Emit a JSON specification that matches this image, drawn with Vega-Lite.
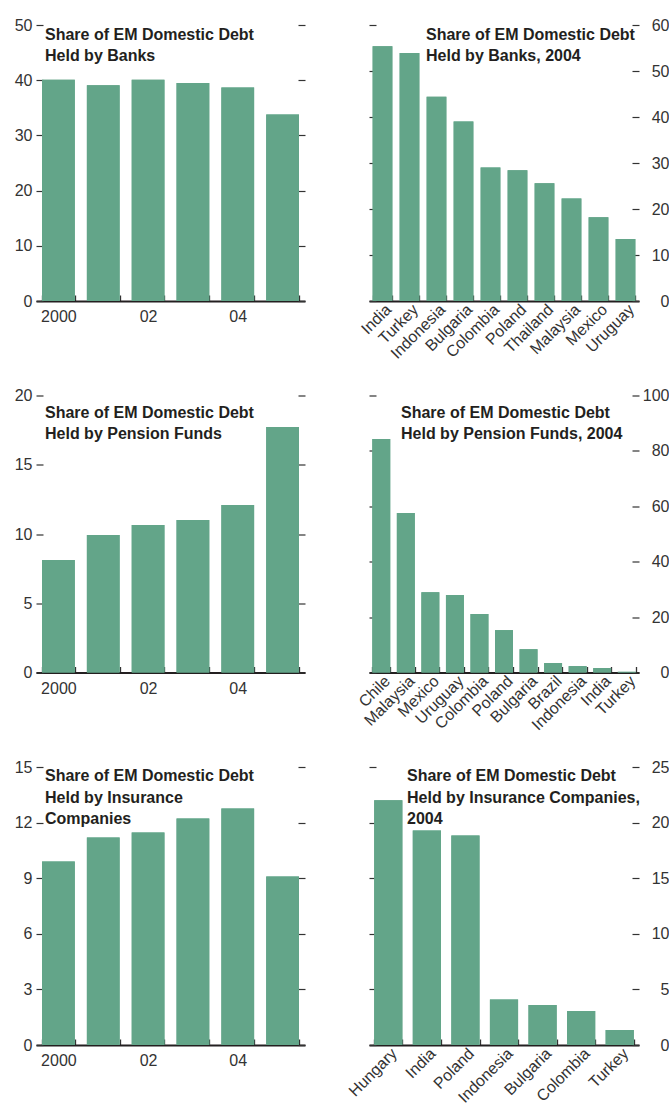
{
  "$schema": "https://vega.github.io/schema/vega-lite/v6.json",
  "padding": {"left": 14, "top": 17, "right": 0, "bottom": 0},
  "background": "white",
  "config": {
    "view": {"stroke": null},
    "bar": {"color": "#63a589"},
    "scale": {"bandPaddingInner": 0.27, "bandPaddingOuter": 0.135},
    "axis": {"grid": false, "labelFont": "Liberation Sans", "labelFontSize": 16, "labelColor": "#333333", "tickColor": "#333333", "domainColor": "#231f20", "title": null},
    "axisX": {"tickBand": "extent", "tickSize": -6, "tickWidth": 1.3, "domainWidth": 1.8, "labelPadding": 6},
    "axisY": {"domain": false, "tickSize": -7, "tickWidth": 1.2},
    "title": {"font": "Liberation Sans", "fontSize": 16, "fontWeight": "bold", "color": "#231f20", "anchor": "start", "frame": "group", "baseline": "top", "lineHeight": 21.5}
  },
  "bounds": "flush",
  "columns": 2,
  "spacing": {"row": 94.5, "column": 64},
  "concat": [
    {
      "width": 269, "height": 276,
      "title": {"text": ["Share of EM Domestic Debt", "Held by Banks"], "offset": -47, "dx": 9},
      "data": {"values": [
        {"year": 2000, "share": 40.1}, {"year": 2001, "share": 39.1}, {"year": 2002, "share": 40.1},
        {"year": 2003, "share": 39.5}, {"year": 2004, "share": 38.7}, {"year": 2005, "share": 33.8}
      ]},
      "layer": [
        {"mark": "bar", "encoding": {
          "x": {"field": "year", "type": "ordinal", "axis": {"labelAngle": 0, "labelPadding": 13.5, "labelExpr": "datum.value == 2000 ? '2000' : datum.value == 2002 ? '02' : datum.value == 2004 ? '04' : ''"}},
          "y": {"field": "share", "type": "quantitative", "scale": {"domain": [0, 50]}, "axis": {"orient": "left", "values": [0, 10, 20, 30, 40, 50], "labelPadding": 11}}
        }},
        {"mark": "bar", "encoding": {
          "x": {"field": "year", "type": "ordinal", "axis": {"labelAngle": 0, "labelPadding": 13.5, "labelExpr": "datum.value == 2000 ? '2000' : datum.value == 2002 ? '02' : datum.value == 2004 ? '04' : ''"}},
          "y": {"field": "share", "type": "quantitative", "scale": {"domain": [0, 50]}, "axis": {"orient": "right", "values": [0, 10, 20, 30, 40, 50], "labels": false}}
        }}
      ],
      "resolve": {"axis": {"y": "independent"}}
    },
    {
      "width": 270, "height": 276,
      "title": {"text": ["Share of EM Domestic Debt", "Held by Banks, 2004"], "offset": -47, "dx": 57},
      "data": {"values": [
        {"country": "India", "share": 55.4}, {"country": "Turkey", "share": 53.9}, {"country": "Indonesia", "share": 44.4},
        {"country": "Bulgaria", "share": 39.0}, {"country": "Colombia", "share": 29.0}, {"country": "Poland", "share": 28.4},
        {"country": "Thailand", "share": 25.6}, {"country": "Malaysia", "share": 22.3}, {"country": "Mexico", "share": 18.2},
        {"country": "Uruguay", "share": 13.5}
      ]},
      "layer": [
        {"mark": "bar", "encoding": {
          "x": {"field": "country", "type": "nominal", "sort": null, "axis": {"labelAngle": -45}},
          "y": {"field": "share", "type": "quantitative", "scale": {"domain": [0, 60]}, "axis": {"orient": "left", "values": [0, 10, 20, 30, 40, 50, 60], "labels": false}}
        }},
        {"mark": "bar", "encoding": {
          "x": {"field": "country", "type": "nominal", "sort": null, "axis": {"labelAngle": -45}},
          "y": {"field": "share", "type": "quantitative", "scale": {"domain": [0, 60]}, "axis": {"orient": "right", "values": [0, 10, 20, 30, 40, 50, 60], "labelAlign": "right", "labelPadding": 37}}
        }}
      ],
      "resolve": {"axis": {"y": "independent"}}
    },
    {
      "width": 269, "height": 277,
      "title": {"text": ["Share of EM Domestic Debt", "Held by Pension Funds"], "offset": -54.5, "dx": 9},
      "data": {"values": [
        {"year": 2000, "share": 8.12}, {"year": 2001, "share": 9.93}, {"year": 2002, "share": 10.65},
        {"year": 2003, "share": 11.01}, {"year": 2004, "share": 12.1}, {"year": 2005, "share": 17.73}
      ]},
      "layer": [
        {"mark": "bar", "encoding": {
          "x": {"field": "year", "type": "ordinal", "axis": {"labelAngle": 0, "labelPadding": 13.5, "labelExpr": "datum.value == 2000 ? '2000' : datum.value == 2002 ? '02' : datum.value == 2004 ? '04' : ''"}},
          "y": {"field": "share", "type": "quantitative", "scale": {"domain": [0, 20]}, "axis": {"orient": "left", "values": [0, 5, 10, 15, 20], "labelPadding": 11}}
        }},
        {"mark": "bar", "encoding": {
          "x": {"field": "year", "type": "ordinal", "axis": {"labelAngle": 0, "labelPadding": 13.5, "labelExpr": "datum.value == 2000 ? '2000' : datum.value == 2002 ? '02' : datum.value == 2004 ? '04' : ''"}},
          "y": {"field": "share", "type": "quantitative", "scale": {"domain": [0, 20]}, "axis": {"orient": "right", "values": [0, 5, 10, 15, 20], "labels": false}}
        }}
      ],
      "resolve": {"axis": {"y": "independent"}}
    },
    {
      "width": 270, "height": 277,
      "title": {"text": ["Share of EM Domestic Debt", "Held by Pension Funds, 2004"], "offset": -54.5, "dx": 32},
      "data": {"values": [
        {"country": "Chile", "share": 84.3}, {"country": "Malaysia", "share": 57.6}, {"country": "Mexico", "share": 29.0},
        {"country": "Uruguay", "share": 28.0}, {"country": "Colombia", "share": 21.1}, {"country": "Poland", "share": 15.3},
        {"country": "Bulgaria", "share": 8.4}, {"country": "Brazil", "share": 3.4}, {"country": "Indonesia", "share": 2.3},
        {"country": "India", "share": 1.6}, {"country": "Turkey", "share": 0.25}
      ]},
      "layer": [
        {"mark": "bar", "encoding": {
          "x": {"field": "country", "type": "nominal", "sort": null, "axis": {"labelAngle": -45}},
          "y": {"field": "share", "type": "quantitative", "scale": {"domain": [0, 100]}, "axis": {"orient": "left", "values": [0, 20, 40, 60, 80, 100], "labels": false}}
        }},
        {"mark": "bar", "encoding": {
          "x": {"field": "country", "type": "nominal", "sort": null, "axis": {"labelAngle": -45}},
          "y": {"field": "share", "type": "quantitative", "scale": {"domain": [0, 100]}, "axis": {"orient": "right", "values": [0, 20, 40, 60, 80, 100], "labelAlign": "right", "labelPadding": 37}}
        }}
      ],
      "resolve": {"axis": {"y": "independent"}}
    },
    {
      "width": 269, "height": 278,
      "title": {"text": ["Share of EM Domestic Debt", "Held by Insurance", "Companies"], "offset": -68, "dx": 9},
      "data": {"values": [
        {"year": 2000, "share": 9.9}, {"year": 2001, "share": 11.2}, {"year": 2002, "share": 11.47},
        {"year": 2003, "share": 12.22}, {"year": 2004, "share": 12.76}, {"year": 2005, "share": 9.09}
      ]},
      "layer": [
        {"mark": "bar", "encoding": {
          "x": {"field": "year", "type": "ordinal", "axis": {"labelAngle": 0, "labelPadding": 13.5, "labelExpr": "datum.value == 2000 ? '2000' : datum.value == 2002 ? '02' : datum.value == 2004 ? '04' : ''"}},
          "y": {"field": "share", "type": "quantitative", "scale": {"domain": [0, 15]}, "axis": {"orient": "left", "values": [0, 3, 6, 9, 12, 15], "labelPadding": 11}}
        }},
        {"mark": "bar", "encoding": {
          "x": {"field": "year", "type": "ordinal", "axis": {"labelAngle": 0, "labelPadding": 13.5, "labelExpr": "datum.value == 2000 ? '2000' : datum.value == 2002 ? '02' : datum.value == 2004 ? '04' : ''"}},
          "y": {"field": "share", "type": "quantitative", "scale": {"domain": [0, 15]}, "axis": {"orient": "right", "values": [0, 3, 6, 9, 12, 15], "labels": false}}
        }}
      ],
      "resolve": {"axis": {"y": "independent"}}
    },
    {
      "width": 270, "height": 278,
      "title": {"text": ["Share of EM Domestic Debt", "Held by Insurance Companies,", "2004"], "offset": -68, "dx": 38},
      "data": {"values": [
        {"country": "Hungary", "share": 22.0}, {"country": "India", "share": 19.29}, {"country": "Poland", "share": 18.84},
        {"country": "Indonesia", "share": 4.09}, {"country": "Bulgaria", "share": 3.6}, {"country": "Colombia", "share": 3.06},
        {"country": "Turkey", "share": 1.35}
      ]},
      "layer": [
        {"mark": "bar", "encoding": {
          "x": {"field": "country", "type": "nominal", "sort": null, "axis": {"labelAngle": -45}},
          "y": {"field": "share", "type": "quantitative", "scale": {"domain": [0, 25]}, "axis": {"orient": "left", "values": [0, 5, 10, 15, 20, 25], "labels": false}}
        }},
        {"mark": "bar", "encoding": {
          "x": {"field": "country", "type": "nominal", "sort": null, "axis": {"labelAngle": -45}},
          "y": {"field": "share", "type": "quantitative", "scale": {"domain": [0, 25]}, "axis": {"orient": "right", "values": [0, 5, 10, 15, 20, 25], "labelAlign": "right", "labelPadding": 37}}
        }}
      ],
      "resolve": {"axis": {"y": "independent"}}
    }
  ]
}
